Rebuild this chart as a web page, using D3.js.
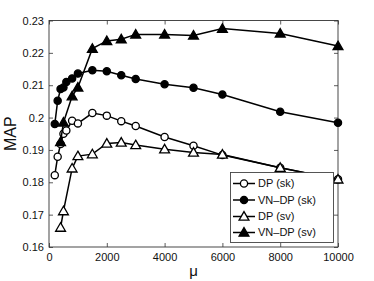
<!DOCTYPE html>
<html><head><meta charset="utf-8">
<script src="https://cdn.jsdelivr.net/npm/d3@7"></script>
<style>body{margin:0;background:#fff}svg{display:block}text{font-family:"Liberation Sans",Arial,sans-serif}</style>
</head><body><svg id="c" width="374" height="281"></svg>
<script>
const skX = [200,300,400,500,600,800,1000,1500,2000,2500,3000,4000,5000,6000,8000,10000];
const dpSk = [0.1822,0.1879,0.1918,0.1950,0.1960,0.1990,0.1982,0.2014,0.2006,0.1989,0.1974,0.1940,0.1913,0.1884,0.1845,0.1809];
const vnSk = [0.1980,0.2052,0.2088,0.2093,0.2110,0.2121,0.2136,0.2146,0.2143,0.2131,0.2119,0.2103,0.2092,0.2071,0.2018,0.1984];
const svX = [400,500,800,1000,1500,2000,2500,3000,4000,5000,6000,8000,10000];
const dpSv = [0.1660,0.1711,0.1843,0.1881,0.1887,0.1920,0.1923,0.1915,0.1902,0.1892,0.1886,0.1845,0.1809];
const vnSv = [0.1925,0.1985,0.2066,0.2093,0.2213,0.2237,0.2242,0.2257,0.2257,0.2254,0.2275,0.2260,0.2221];
const xTicks = [0,2000,4000,6000,8000,10000];
const yTicks = [0.16,0.17,0.18,0.19,0.2,0.21,0.22,0.23];
const yTickLabels = ["0.16","0.17","0.18","0.19","0.2","0.21","0.22","0.23"];
const seriesNames = ["DP (sk)","VN\u2013DP (sk)","DP (sv)","VN\u2013DP (sv)"];

const series = [
  {name:seriesNames[0], xs:skX, ys:dpSk, shape:"circle", fill:"#fff"},
  {name:seriesNames[1], xs:skX, ys:vnSk, shape:"circle", fill:"#000"},
  {name:seriesNames[2], xs:svX, ys:dpSv, shape:"triangle", fill:"#fff"},
  {name:seriesNames[3], xs:svX, ys:vnSv, shape:"triangle", fill:"#000"}
];

const L=49, R=338, T=20.5, B=247;
const x = d3.scaleLinear().domain([0,10000]).range([L,R]);
const y = d3.scaleLinear().domain([0.16,0.23]).range([B,T]);
const svg = d3.select("#c");

const tl = 4;
const gx = svg.append("g").attr("transform",`translate(0,${B})`)
  .call(d3.axisBottom(x).tickValues(xTicks).tickSize(-tl).tickPadding(6).tickFormat(d3.format("d")));
const gxt = svg.append("g").attr("transform",`translate(0,${T})`)
  .call(d3.axisTop(x).tickValues(xTicks).tickSize(-tl).tickFormat(""));
const gy = svg.append("g").attr("transform",`translate(${L},0)`)
  .call(d3.axisLeft(y).tickValues(yTicks).tickSize(-tl).tickPadding(5).tickFormat((d,i)=>yTickLabels[i]));
const gyr = svg.append("g").attr("transform",`translate(${R},0)`)
  .call(d3.axisRight(y).tickValues(yTicks).tickSize(-tl).tickFormat(""));
[gx,gxt,gy,gyr].forEach(g=>{
  g.select(".domain").remove();
  g.selectAll("line").attr("stroke","#333").attr("stroke-width",0.8);
  g.selectAll("text").attr("font-size",11).attr("fill","#111").attr("font-family","Liberation Sans, Arial, sans-serif");
});
gx.selectAll("text").attr("dy","0.71em");

svg.append("rect").attr("x",L).attr("y",T).attr("width",R-L).attr("height",B-T)
  .attr("fill","none").attr("stroke","#333").attr("stroke-width",0.9);

const line = d3.line().x(d=>x(d[0])).y(d=>y(d[1]));
const tri = d3.symbol().type(d3.symbolTriangle).size(42);

function marker(g, shape, fill, cx, cy){
  if(shape==="circle"){
    g.append("circle").attr("cx",cx).attr("cy",cy).attr("r",3.6)
      .attr("fill",fill).attr("stroke","#000").attr("stroke-width",1.3);
  } else {
    g.append("path").attr("d",tri()).attr("transform",`translate(${cx},${cy+0.8})`)
      .attr("fill",fill).attr("stroke","#000").attr("stroke-width",1.3).attr("stroke-linejoin","miter");
  }
}

series.forEach(s=>{
  const pts = s.xs.map((v,i)=>[v,s.ys[i]]);
  const g = svg.append("g");
  g.append("path").attr("d",line(pts)).attr("fill","none").attr("stroke","#000").attr("stroke-width",1.5);
  pts.forEach(p=>marker(g,s.shape,s.fill,x(p[0]),y(p[1])));
});

// legend
const lg = svg.append("g");
lg.append("rect").attr("x",230.5).attr("y",172.5).attr("width",103).attr("height",70)
  .attr("fill","#fff").attr("stroke","#444").attr("stroke-width",0.9);
const ly = [183.5,200,216.5,232.5];
series.forEach((s,i)=>{
  lg.append("line").attr("x1",233).attr("x2",255).attr("y1",ly[i]).attr("y2",ly[i])
    .attr("stroke","#000").attr("stroke-width",1.5);
  marker(lg,s.shape,s.fill,244,ly[i]);
  lg.append("text").attr("x",258).attr("y",ly[i]).attr("dy","0.36em")
    .attr("font-size",11).attr("fill","#111").text(s.name);
});

svg.append("text").attr("x",(L+R)/2).attr("y",276).attr("text-anchor","middle")
  .attr("font-size",15).attr("fill","#111").text("\u03bc");
svg.append("text").attr("transform",`translate(16,${(T+B)/2}) rotate(-90)`)
  .attr("text-anchor","middle").attr("font-size",16).attr("fill","#111").text("MAP");
</script></body></html>
